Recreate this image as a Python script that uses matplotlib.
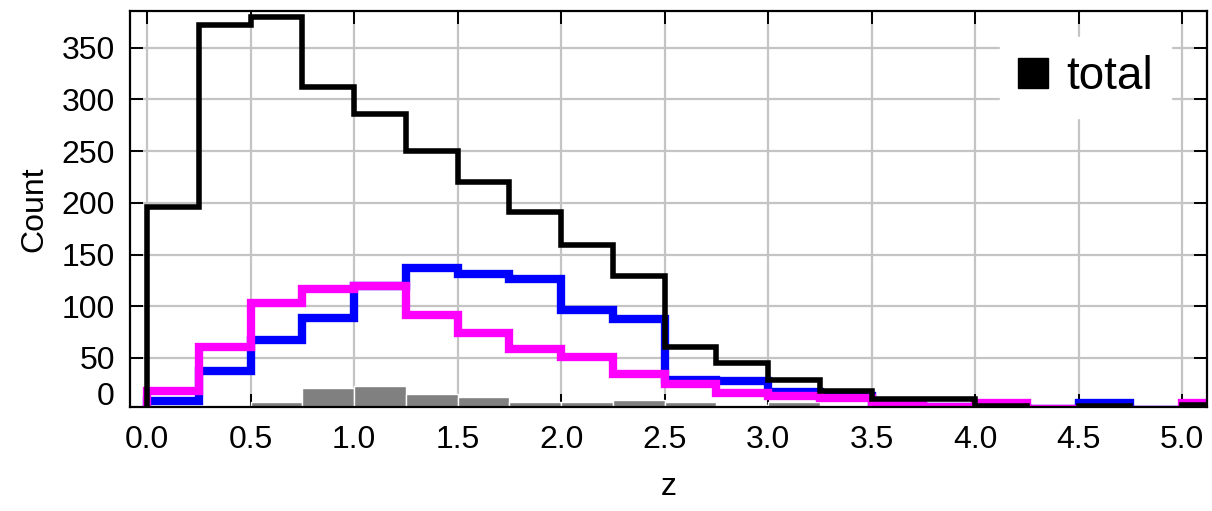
import matplotlib

matplotlib.use("Agg")
import matplotlib.pyplot as plt  # noqa: E402
import numpy as np  # noqa: E402
from matplotlib.lines import Line2D  # noqa: E402

plt.rcParams["font.family"] = ["Liberation Sans", "DejaVu Sans"]

# redshift bins, width 0.25
edges = np.arange(0.0, 5.26, 0.25)

total = [196, 372, 380, 312, 286, 250, 220, 191, 159, 129, 61, 45, 29, 18,
         10, 10, 4, 1, 4, 0, 5]
blue_counts = [8, 37, 67, 89, 120, 137, 131, 126, 96, 88, 29, 28, 17, 13,
               4, 3, 2, 1, 6, 0, 0]
magenta_counts = [18, 61, 103, 117, 120, 92, 74, 59, 51, 35, 25, 16, 13, 11,
                  5, 3, 6, 1, 0, 0, 6]
gray_counts = [2, 4, 7, 21, 23, 15, 12, 7, 7, 9, 7, 5, 7, 4,
               2, 4, 1, 4, 3, 0, 2]

x_ticks = np.arange(0.0, 5.01, 0.5)
y_ticks = np.arange(50, 351, 50)

FS = 23

fig = plt.figure(figsize=(12.12, 5.11), dpi=100)
ax = fig.add_axes([0.1073, 0.2035, 0.8886, 0.775])

ax.bar(edges[:-1], gray_counts, width=0.25, align="edge", color="#808080",
       edgecolor="white", linewidth=1.0, zorder=2)
ax.stairs(blue_counts, edges, baseline=0, fill=False, color="#0000ff", lw=6, zorder=3)
ax.stairs(magenta_counts, edges, baseline=0, fill=False, color="#ff00ff", lw=6, zorder=4)
ax.stairs(total, edges, baseline=0, fill=False, color="black", lw=4, zorder=5)

ax.set_xlim(-0.082, 5.12)
ax.set_ylim(2.6, 385.5)
ax.set_xticks(x_ticks)
ax.set_xticklabels([f"{v:.1f}" for v in x_ticks])
ax.set_yticks(y_ticks)
ax.set_yticklabels([str(v) for v in y_ticks])
ax.annotate("0", xy=(0, 0), xycoords=("axes fraction", "data"),
            xytext=(-11, 9), textcoords="offset points",
            ha="right", va="center", fontsize=FS)

ax.tick_params(axis="both", which="major", direction="in", length=9.5, width=1.4,
               top=True, right=True, labelsize=FS, pad=11, color="black")
ax.tick_params(axis="x", pad=13)
ax.grid(True, color="#c4c4c4", lw=1.6, zorder=0)
ax.set_axisbelow(True)
for s in ax.spines.values():
    s.set_linewidth(1.6)
    s.set_zorder(6)

ax.set_xlabel("z", fontsize=FS, labelpad=12)
ax.set_ylabel("Count", fontsize=FS, labelpad=9)

handle = Line2D([], [], marker="s", linestyle="none", color="black", markersize=21)
leg = ax.legend([handle], ["total"], loc="upper right", bbox_to_anchor=(0.967, 0.934),
                borderaxespad=0, fontsize=33, handlelength=0.65, handletextpad=0.4,
                borderpad=0.4, frameon=True, fancybox=False, framealpha=1,
                edgecolor="white")
leg.set_zorder(7)

fig.savefig("out.png", dpi=100)
